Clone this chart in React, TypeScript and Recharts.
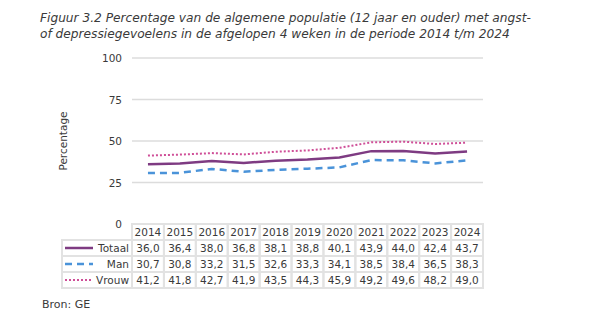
import React from 'react';
import { LineChart, Line, XAxis, YAxis, CartesianGrid } from 'recharts';

const years = ['2014', '2015', '2016', '2017', '2018', '2019', '2020', '2021', '2022', '2023', '2024'];
const totaal = [36.0, 36.4, 38.0, 36.8, 38.1, 38.8, 40.1, 43.9, 44.0, 42.4, 43.7];
const man = [30.7, 30.8, 33.2, 31.5, 32.6, 33.3, 34.1, 38.5, 38.4, 36.5, 38.3];
const vrouw = [41.2, 41.8, 42.7, 41.9, 43.5, 44.3, 45.9, 49.2, 49.6, 48.2, 49.0];
const yTicks = [0, 25, 50, 75, 100];
const seriesNames = ['Totaal', 'Man', 'Vrouw'];
const seriesValues = [totaal, man, vrouw];
const titleLines = [
  'Figuur 3.2 Percentage van de algemene populatie (12 jaar en ouder) met angst-',
  'of depressiegevoelens in de afgelopen 4 weken in de periode 2014 t/m 2024',
];
const yLabel = 'Percentage';
const source = 'Bron: GE';

const data = years.map((y, i) => ({ year: y, Totaal: totaal[i], Man: man[i], Vrouw: vrouw[i] }));

const FONT = '"DejaVu Sans", Verdana, sans-serif';
const TEXT = '#3a3a3a';
const BORDER = '#e2e2e2';
const COLORS = ['#7e3b82', '#4a93d9', '#cf4f98'];
const DASHES = [undefined, '7 5', '2 2'];
const WIDTHS = [2.5, 2.5, 2];

const W = 602;
const H = 330;
const PLOT_LEFT = 132;
const PLOT_RIGHT = 483;
const PLOT_TOP = 58;
const PLOT_BOTTOM = 224;
const ROW_H = 16;
const LEGEND_LEFT = 62;
const COL_W = (PLOT_RIGHT - PLOT_LEFT) / years.length;
const XAXIS_H = ROW_H * 4;

const fmt = (v: number) => v.toFixed(1).replace('.', ',');

const TableTick = (props: any) => {
  const { x, payload, index } = props;
  const left = x - COL_W / 2;
  const top = PLOT_BOTTOM;
  const cells: React.ReactNode[] = [];
  cells.push(
    <g key="h">
      <rect x={left} y={top} width={COL_W} height={ROW_H} fill="none" stroke={BORDER} strokeWidth={2} />
      <text x={x} y={top + ROW_H / 2 + 4} textAnchor="middle" fontSize={10.5} fontFamily={FONT} fill={TEXT}>
        {payload.value}
      </text>
    </g>
  );
  seriesValues.forEach((vals, r) => {
    const ry = top + ROW_H * (r + 1);
    cells.push(
      <g key={'r' + r}>
        <rect x={left} y={ry} width={COL_W} height={ROW_H} fill="none" stroke={BORDER} strokeWidth={2} />
        <text x={x} y={ry + ROW_H / 2 + 4} textAnchor="middle" fontSize={10.5} fontFamily={FONT} fill={TEXT}>
          {fmt(vals[index])}
        </text>
      </g>
    );
  });
  if (index === 0) {
    seriesNames.forEach((name, r) => {
      const ry = top + ROW_H * (r + 1);
      cells.push(
        <g key={'l' + r}>
          <rect x={LEGEND_LEFT} y={ry} width={left - LEGEND_LEFT} height={ROW_H} fill="none" stroke={BORDER} strokeWidth={2} />
          <line
            x1={LEGEND_LEFT + 3}
            x2={LEGEND_LEFT + 31}
            y1={ry + ROW_H / 2}
            y2={ry + ROW_H / 2}
            stroke={COLORS[r]}
            strokeWidth={WIDTHS[r]}
            strokeDasharray={DASHES[r]}
          />
          <text x={left - 3} y={ry + ROW_H / 2 + 4} textAnchor="end" fontSize={10.5} fontFamily={FONT} fill={TEXT}>
            {name}
          </text>
        </g>
      );
    });
  }
  return <g>{cells}</g>;
};

const YTick = (props: any) => {
  const { y, payload } = props;
  return (
    <text x={PLOT_LEFT - 10} y={y + 4} textAnchor="end" fontSize={10.5} fontFamily={FONT} fill={TEXT}>
      {payload.value}
    </text>
  );
};

export default function App() {
  return (
    <div style={{ position: 'absolute', left: 0, top: 0, width: W, height: H, background: '#fff' }}>
      {titleLines.map((t, i) => (
        <div
          key={i}
          style={{
            position: 'absolute',
            left: 40,
            top: 10 + i * 16,
            fontFamily: FONT,
            fontStyle: 'italic',
            fontSize: 12.2,
            color: TEXT,
            whiteSpace: 'nowrap',
            lineHeight: '16px',
          }}
        >
          {t}
        </div>
      ))}
      <div style={{ position: 'absolute', left: 0, top: 0 }}>
        <LineChart
          width={W}
          height={H}
          data={data}
          margin={{ top: PLOT_TOP, right: W - PLOT_RIGHT, left: 0, bottom: H - PLOT_BOTTOM - XAXIS_H }}
        >
          <CartesianGrid vertical={false} stroke="#dcdcdc" strokeWidth={1.5} horizontalValues={[25, 50, 75, 100]} />
          <XAxis
            dataKey="year"
            scale="band"
            axisLine={false}
            tickLine={false}
            height={XAXIS_H}
            interval={0}
            tick={<TableTick />}
          />
          <YAxis
            domain={[0, 100]}
            ticks={yTicks}
            width={PLOT_LEFT}
            axisLine={false}
            tickLine={false}
            tick={<YTick />}
            label={{
              value: yLabel,
              angle: -90,
              position: 'insideLeft',
              offset: 63,
              style: { fontFamily: FONT, fontSize: 10.5, fill: TEXT, textAnchor: 'middle' },
            }}
          />
          {seriesNames.map((name, i) => (
            <Line
              key={name}
              type="linear"
              dataKey={name}
              stroke={COLORS[i]}
              strokeWidth={WIDTHS[i]}
              strokeDasharray={DASHES[i]}
              dot={false}
              activeDot={false}
              isAnimationActive={false}
            />
          ))}
        </LineChart>
      </div>
      <div
        style={{
          position: 'absolute',
          left: 42,
          top: 298,
          fontFamily: FONT,
          fontSize: 11,
          color: TEXT,
        }}
      >
        {source}
      </div>
    </div>
  );
}
